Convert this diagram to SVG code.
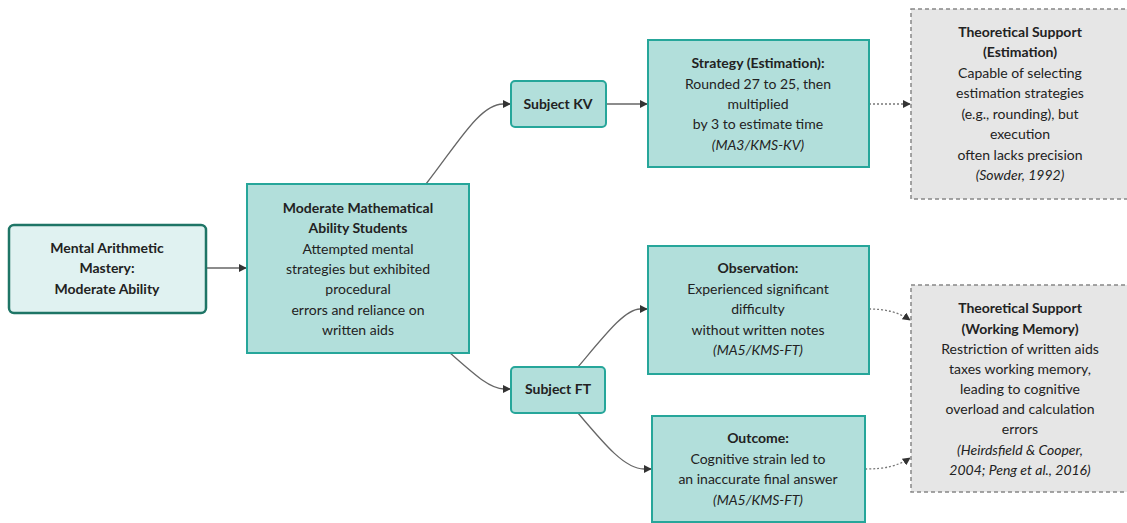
<svg xmlns="http://www.w3.org/2000/svg" width="1127" height="523" viewBox="0 0 1127 523">
<defs>
<style>
text{font-family:Lato,"Open Sans","DejaVu Sans",sans-serif;font-size:14px;fill:#222;text-anchor:middle;}
.b{font-weight:bold;}
.i{font-style:italic;}
.root{fill:#e0f2f1;stroke:#1e7566;stroke-width:2.5;}
.main{fill:#b2dfdb;stroke:#26a69a;stroke-width:2;}
.theo{fill:#e6e6e6;stroke:#888;stroke-width:1.5;stroke-dasharray:4 3;}
.edge{fill:none;stroke:#666;stroke-width:1.3;}
.dot{fill:none;stroke:#777;stroke-width:1.3;stroke-dasharray:2 2;}
</style>
<marker id="ah" viewBox="0 0 10 10" refX="9" refY="5" markerWidth="8" markerHeight="8" orient="auto-start-reverse" markerUnits="userSpaceOnUse">
<path d="M0,0 L10,5 L0,10 z" fill="#333"/>
</marker>
</defs>
<rect width="1127" height="523" fill="#fff"/>
<g id="connectors">
<path class="edge" d="M206,268 L246,268" marker-end="url(#ah)"/>
<path class="edge" d="M426,184 C458,143 480,104 503,104 L510,104" marker-end="url(#ah)"/>
<path class="edge" d="M606,104 L647,104" marker-end="url(#ah)"/>
<path class="dot" d="M869,104 L910,104" marker-end="url(#ah)"/>
<path class="edge" d="M450,353 C475,375 490,389 504,389 L510,389" marker-end="url(#ah)"/>
<path class="edge" d="M578,367 C605,335 625,309 640,309 L647,309" marker-end="url(#ah)"/>
<path class="edge" d="M578,413 C605,445 625,469 644,469 L651,469" marker-end="url(#ah)"/>
<path class="dot" d="M869,309 C885,309 898,312 910,320" marker-end="url(#ah)"/>
<path class="dot" d="M865,469 C885,469 898,466 910,458" marker-end="url(#ah)"/>
</g>
<g id="nodeA">
<rect class="root" x="9" y="225" width="197" height="88" rx="5"/>
<text class="b" x="107" y="253">Mental Arithmetic</text>
<text class="b" x="107" y="273">Mastery:</text>
<text class="b" x="107" y="294">Moderate Ability</text>
</g>
<g id="nodeB">
<rect class="main" x="247" y="184" width="222" height="169"/>
<text class="b" x="358" y="213">Moderate Mathematical</text>
<text class="b" x="358" y="233">Ability Students</text>
<text x="358" y="254">Attempted mental</text>
<text x="358" y="274">strategies but exhibited</text>
<text x="358" y="294">procedural</text>
<text x="358" y="315">errors and reliance on</text>
<text x="358" y="335">written aids</text>
</g>
<g id="subjectKV">
<rect class="main" x="511" y="81" width="95" height="46" rx="4"/>
<text class="b" x="558" y="109">Subject KV</text>
</g>
<g id="strategy">
<rect class="main" x="648" y="40" width="221" height="127"/>
<text class="b" x="758" y="68">Strategy (Estimation):</text>
<text x="758" y="89">Rounded 27 to 25, then</text>
<text x="758" y="109">multiplied</text>
<text x="758" y="129">by 3 to estimate time</text>
<text class="i" x="758" y="150">(MA3/KMS-KV)</text>
</g>
<g id="theoEst">
<rect class="theo" x="911" y="9" width="220" height="190"/>
<text class="b" x="1020" y="37">Theoretical Support</text>
<text class="b" x="1020" y="57">(Estimation)</text>
<text x="1020" y="78">Capable of selecting</text>
<text x="1020" y="98">estimation strategies</text>
<text x="1020" y="119">(e.g., rounding), but</text>
<text x="1020" y="139">execution</text>
<text x="1020" y="160">often lacks precision</text>
<text class="i" x="1020" y="180">(Sowder, 1992)</text>
</g>
<g id="subjectFT">
<rect class="main" x="511" y="367" width="94" height="46" rx="4"/>
<text class="b" x="558" y="394">Subject FT</text>
</g>
<g id="observation">
<rect class="main" x="648" y="246" width="221" height="128"/>
<text class="b" x="758" y="273">Observation:</text>
<text x="758" y="294">Experienced significant</text>
<text x="758" y="314">difficulty</text>
<text x="758" y="335">without written notes</text>
<text class="i" x="758" y="355">(MA5/KMS-FT)</text>
</g>
<g id="outcome">
<rect class="main" x="652" y="416" width="213" height="106"/>
<text class="b" x="758" y="443">Outcome:</text>
<text x="758" y="464">Cognitive strain led to</text>
<text x="758" y="484">an inaccurate final answer</text>
<text class="i" x="758" y="505">(MA5/KMS-FT)</text>
</g>
<g id="theoWM">
<rect class="theo" x="911" y="285" width="220" height="207"/>
<text class="b" x="1020" y="313">Theoretical Support</text>
<text class="b" x="1020" y="334">(Working Memory)</text>
<text x="1020" y="354">Restriction of written aids</text>
<text x="1020" y="374">taxes working memory,</text>
<text x="1020" y="394">leading to cognitive</text>
<text x="1020" y="414">overload and calculation</text>
<text x="1020" y="434">errors</text>
<text class="i" x="1020" y="455">(Heirdsfield &amp; Cooper,</text>
<text class="i" x="1020" y="475">2004; Peng et al., 2016)</text>
</g>
</svg>
